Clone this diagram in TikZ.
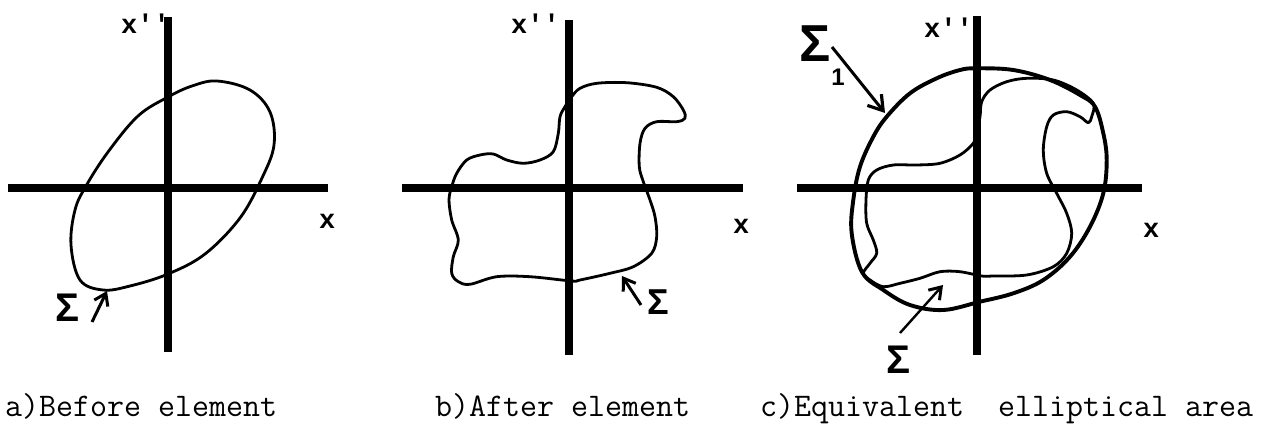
\documentclass[tikz,border=0pt]{standalone}
\usepackage{fontspec}
\usetikzlibrary{arrows.meta}
\newfontfamily\lblfont{Liberation Mono}
\newfontfamily\sigfont{Liberation Sans}
\begin{document}
\begin{tikzpicture}[x=1pt,y=-1pt,
  axisline/.style={line width=8.5pt},
  curve/.style={line width=2.8pt, line join=round},
  thickcurve/.style={line width=3.9pt, line join=round},
  lbl/.style={font=\lblfont\bfseries\fontsize{27}{28}\selectfont, inner sep=0, anchor=base west},
  sig/.style={font=\sigfont\bfseries\fontsize{40}{42}\selectfont, inner sep=0},
  sigarrow/.style={line width=3pt, -{Straight Barb[length=11pt,width=15pt,line width=3pt]}},
  captext/.style={font=\ttfamily\fontsize{33}{36}\selectfont, anchor=base west, inner sep=0}]
\useasboundingbox (0,0) rectangle (1283,434);

% ---------- panel a ----------
\coordinate (a-l) at (8,188);   \coordinate (a-r) at (328,188);
\coordinate (a-t) at (168,17);  \coordinate (a-b) at (168,352);
\draw[axisline] (a-l) -- (a-r);
\draw[axisline] (a-t) -- (a-b);
\node[lbl] (a-xpp) at (121,33) {x''};
\node[lbl] (a-x) at (319,228) {x};
\draw[curve] plot[smooth cycle, tension=0.6] coordinates {
 (217,81) (250,90) (270,112) (274,145) (262,178) (240,218) (205,254) (168,274)
 (130,286) (103,290) (80,280) (71,245) (75,210) (86,186) (108,152) (138,116)
 (168,97) (192,86)};
\node[sig] (a-sig) at (68,308) {Σ};
\coordinate (a-s0) at (92,322); \coordinate (a-s1) at (107,291);
\draw[sigarrow] (a-s0) -- (a-s1);

% ---------- panel b ----------
\coordinate (b-l) at (402,188); \coordinate (b-r) at (743,188);
\coordinate (b-t) at (569,20);  \coordinate (b-b) at (569,355);
\draw[axisline] (b-l) -- (b-r);
\draw[axisline] (b-t) -- (b-b);
\node[lbl] (b-xpp) at (511,33) {x''};
\node[lbl] (b-x) at (733,233) {x};
\draw[curve] plot[smooth cycle, tension=0.55] coordinates {
 (571.7,96.7) (580,88.3) (596.7,83.3) (626.7,82.7) (656.7,87.3) (673.3,96.7)
 (683.3,110) (685,118.3) (676.7,121.7) (656.7,121.7) (645,128.3) (640,143.3)
 (639.3,166.7) (643.3,181.7) (650,200) (655,216.7) (656.7,236.7) (651.7,253.3)
 (633.3,266.7) (610,273.3) (580,280) (571.7,281) (530,276.7) (496.7,276.7)
 (470,284.3) (458.3,281.7) (451.7,273.3) (453.3,256.7) (458.3,240) (451.7,220)
 (449,200) (451.7,186.7) (456.7,173.3) (466.7,160) (480,155) (493.3,154)
 (506.7,160) (523.3,163.3) (540,160) (553.3,151.7) (558.3,133.3) (560,116.7)
 (565,106.7)};
\node[sig, font=\sigfont\bfseries\fontsize{36}{38}\selectfont] (b-sig) at (658,302) {Σ};
\coordinate (b-s0) at (641,305); \coordinate (b-s1) at (622,276);
\draw[sigarrow] (b-s0) -- (b-s1);

% ---------- panel c ----------
\coordinate (c-l) at (797,188); \coordinate (c-r) at (1142,188);
\coordinate (c-t) at (977,16);  \coordinate (c-b) at (977,355);
\draw[axisline] (c-l) -- (c-r);
\draw[axisline] (c-t) -- (c-b);
\node[lbl] (c-xpp) at (924,37) {x''};
\node[lbl] (c-x) at (1143,237) {x};
\draw[thickcurve] plot[smooth cycle, tension=0.6] coordinates {
 (976.7,68.3) (1013.3,70) (1050,80) (1080,95) (1095,106.7) (1103.3,133.3)
 (1106.7,160) (1103.3,193.3) (1090,226.7) (1070,256.7) (1043.3,280) (1013.3,293.3)
 (980,301.7) (943.3,310) (910,305) (883.3,290) (862,272) (851.7,233.3)
 (853.3,200) (860,166.7) (873.3,136.7) (886.7,116.7) (910,93.3) (936.7,78.3)
 (960,70)};
\draw[curve] plot[smooth cycle, tension=0.55] coordinates {
 (981.7,101.7) (990,90) (1006.7,81.7) (1026.7,78.3) (1053.3,80) (1076.7,90)
 (1093.3,103.3) (1091.7,116.7) (1088.3,122.7) (1080,116.7) (1066.7,111.7)
 (1053.3,115) (1046.7,126.7) (1043.3,150) (1046.7,173.3) (1056.7,193.3)
 (1066.7,213.3) (1071.7,233.3) (1066.7,253.3) (1053.3,266.7) (1026.7,275)
 (993.3,276) (981.7,276) (960,271.7) (940,271.7) (920,278.3) (900,283.3)
 (883.3,286.7) (870,280) (863.3,273.3) (870,263.3) (876.7,253.3) (873.3,240)
 (866.7,223.3) (866,200) (868.3,180) (876.7,170) (893.3,165) (916.7,165)
 (940,163.3) (960,155) (973.3,143.3) (976.7,133.3) (980,116.7)};
\node[sig, font=\sigfont\bfseries\fontsize{52}{54}\selectfont] (c-sig1) at (815,44) {Σ};
\node[font=\sigfont\bfseries\fontsize{24}{26}\selectfont, inner sep=0] (c-sub) at (838,77) {1};
\coordinate (c-s0) at (832,47); \coordinate (c-s1) at (885,113);
\draw[sigarrow, -{Straight Barb[length=14pt,width=18pt,line width=3.2pt]}] (c-s0) -- (c-s1);
\node[sig] (c-sig) at (898,360) {Σ};
\coordinate (c-t0) at (900,333); \coordinate (c-t1) at (943,285);
\draw[sigarrow, line width=2.4pt] (c-t0) -- (c-t1);

% ---------- captions ----------
\node[captext] (cap-a) at (5,416) {a)Before element};
\node[captext] (cap-b) at (435,416) {b)After element};
\node[captext] (cap-c) at (760,416) {c)Equivalent\ \ elliptical area};
\end{tikzpicture}
\end{document}
